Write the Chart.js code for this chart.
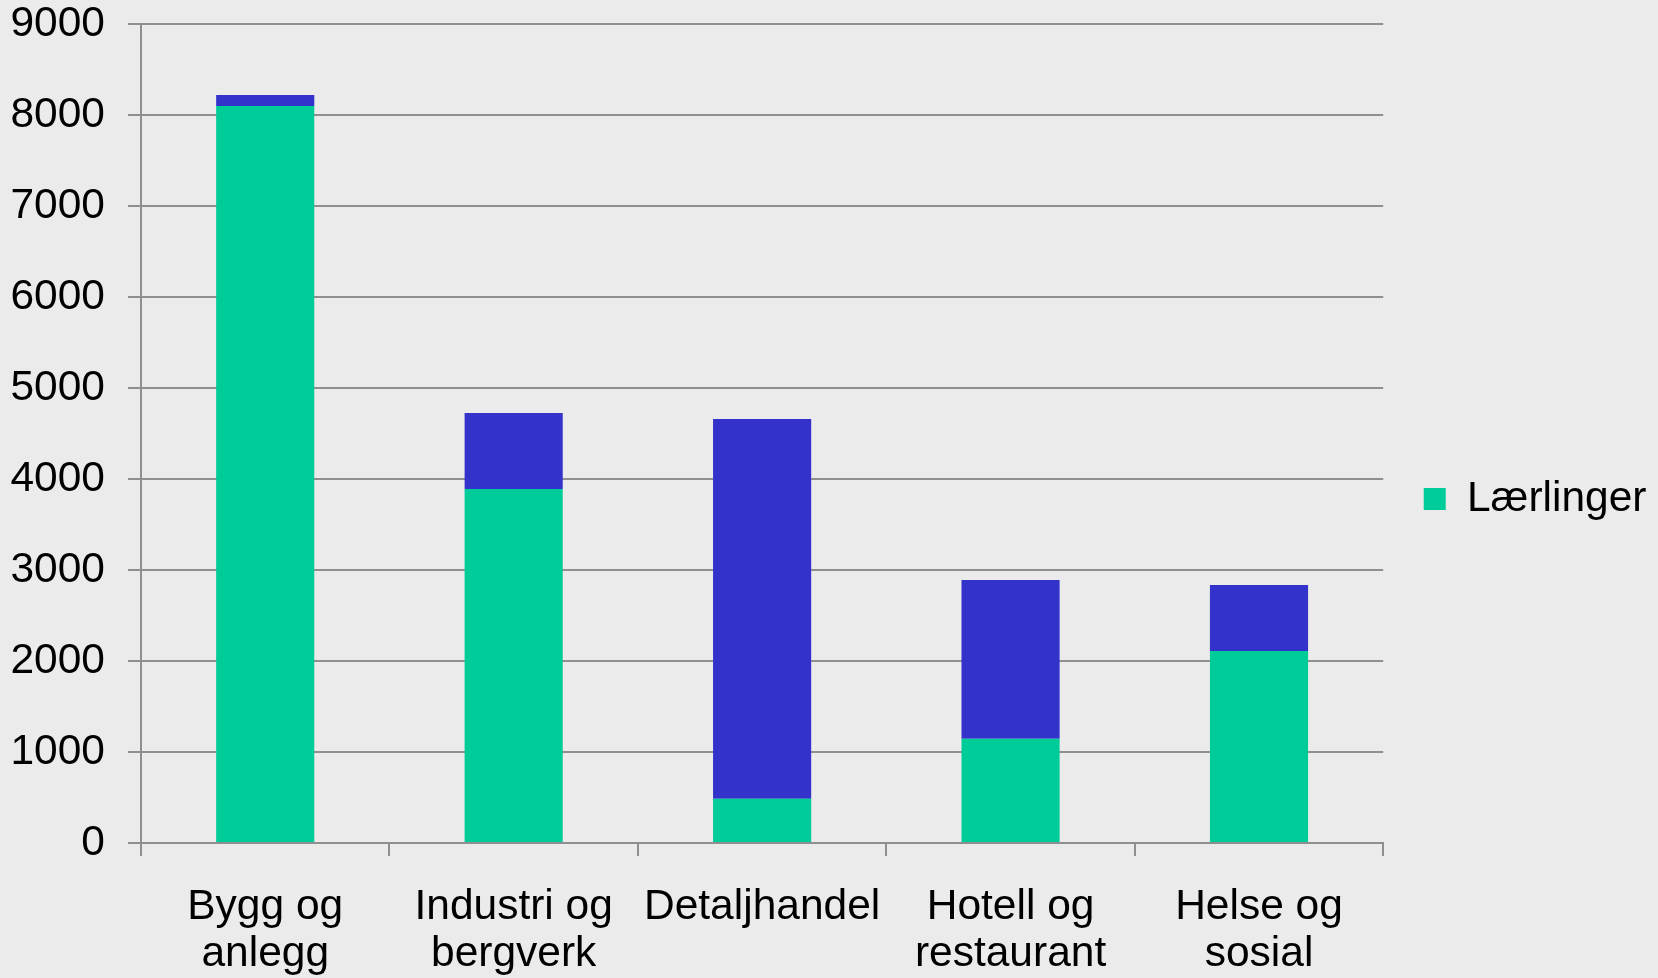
<!DOCTYPE html>
<html>
<head>
<meta charset="utf-8">
<script src="https://cdn.jsdelivr.net/npm/chart.js@4/dist/chart.umd.min.js"></script>
<style>
  html, body { margin: 0; padding: 0; background: #ebebeb; }
  #wrap { width: 1658px; height: 978px; }
</style>
</head>
<body>
<div id="wrap"><canvas id="myChart"></canvas></div>
<script>
  const categories = [["Bygg og", "anlegg"], ["Industri og", "bergverk"], ["Detaljhandel"], ["Hotell og", "restaurant"], ["Helse og", "sosial"]];
  const laerlinger = [8100, 3890, 485, 1145, 2110];
  const andre = [120, 835, 4175, 1745, 725];
  const yTicks = [0, 1000, 2000, 3000, 4000, 5000, 6000, 7000, 8000, 9000];

  const gridGray = '#8f8f8f';
  const fontSize = 42.5;
  Chart.defaults.font.family = "'Liberation Sans', Arial, sans-serif";
  Chart.defaults.color = '#000';

  new Chart(document.getElementById('myChart'), {
    type: 'bar',
    data: {
      labels: categories,
      datasets: [{
        label: 'Lærlinger',
        data: laerlinger,
        backgroundColor: '#00cc99',
        barPercentage: 0.395,
        categoryPercentage: 1
      }, {
        label: '',
        data: andre,
        backgroundColor: '#3333cc',
        barPercentage: 0.395,
        categoryPercentage: 1
      }]
    },
    options: {
      responsive: true,
      maintainAspectRatio: false,
      animation: false,
      layout: { padding: { left: 10, right: 1.5, top: 0, bottom: 0 } },
      plugins: {
        tooltip: { enabled: false },
        legend: {
          position: 'right',
          title: { display: true, text: ' ', font: { size: 10, lineHeight: 1.2 }, padding: 4 },
          labels: {
            boxWidth: 22,
            boxHeight: 22,
            padding: 40.5,
            font: { size: fontSize },
            filter: item => item.datasetIndex === 0
          }
        }
      },
      scales: {
        x: {
          stacked: true,
          afterFit: axis => { axis.height = 135; },
          grid: {
            offset: true,
            drawOnChartArea: false,
            drawTicks: true,
            tickLength: 13,
            color: gridGray,
            lineWidth: 2
          },
          border: { display: true, color: gridGray, width: 2 },
          ticks: { font: { size: fontSize, lineHeight: 1.12 }, padding: 27, maxRotation: 0, autoSkip: false }
        },
        y: {
          stacked: true,
          min: 0,
          max: 9000,
          afterBuildTicks: axis => { axis.ticks = yTicks.map(v => ({ value: v })); },
          afterFit: axis => { axis.width = 131; axis.paddingTop = 24; axis.paddingBottom = 0; },
          grid: { color: gridGray, lineWidth: 2, tickLength: 13 },
          border: { display: true, color: gridGray, width: 2 },
          ticks: { font: { size: fontSize }, padding: 23, callback: v => String(v) }
        }
      }
    }
  });
</script>
</body>
</html>
